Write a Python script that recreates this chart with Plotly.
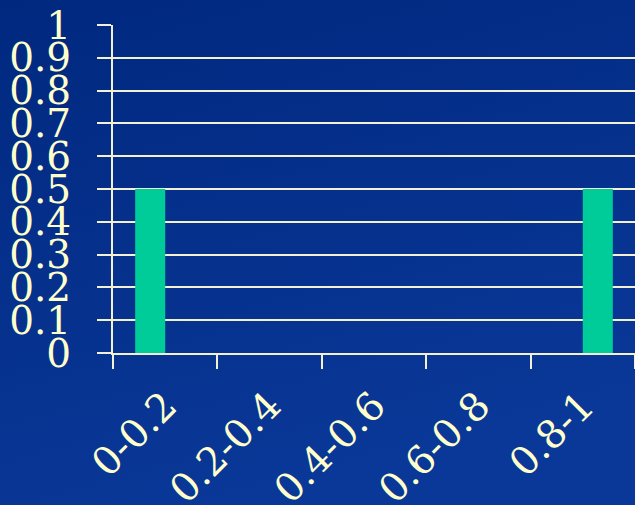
import base64
import plotly.graph_objects as go

categories = ["0-0.2", "0.2-0.4", "0.4-0.6", "0.6-0.8", "0.8-1"]
series_a = [0.5, 0, 0, 0, 0]
series_b = [0, 0, 0, 0, 0.5]
y_ticks = [0, 0.1, 0.2, 0.3, 0.4, 0.5, 0.6, 0.7, 0.8, 0.9, 1]
y_labels = ["0", "0.1", "0.2", "0.3", "0.4", "0.5", "0.6", "0.7", "0.8", "0.9", "1"]

TXT = "#FFFFCC"
LINE = "#F4F0D4"
BAR = "#00CC99"
FONT = "DejaVu Serif"
FSIZE = 39

svg = ('<svg xmlns="http://www.w3.org/2000/svg" width="635" height="505">'
       '<defs><linearGradient id="g" x1="0" y1="0" x2="0.35" y2="1">'
       '<stop offset="0" stop-color="#00287F"/><stop offset="1" stop-color="#0A3898"/>'
       '</linearGradient></defs><rect width="635" height="505" fill="url(#g)"/></svg>')
bg = "data:image/svg+xml;base64," + base64.b64encode(svg.encode()).decode()

fig = go.Figure()
fig.add_trace(go.Bar(x=categories, y=series_a, marker=dict(color=BAR, line=dict(width=0)), showlegend=False))
fig.add_trace(go.Bar(x=categories, y=series_b, marker=dict(color=BAR, line=dict(width=0)), showlegend=False))

fig.update_layout(
    width=635, height=505,
    margin=dict(l=113, r=0, t=25, b=152),
    paper_bgcolor="#03308C",
    plot_bgcolor="rgba(0,0,0,0)",
    barmode="group",
    bargap=0.425,
    bargroupgap=0,
    font=dict(family=FONT, color=TXT, size=FSIZE),
    images=[dict(source=bg, xref="paper", yref="paper", x=-113/522, y=1+25/328,
                 sizex=635/522, sizey=505/328, xanchor="left", yanchor="top",
                 sizing="stretch", layer="below")],
    xaxis=dict(
        type="category",
        tickson="boundaries",
        ticks="outside", ticklen=14, tickwidth=2, tickcolor=LINE,
        showline=True, linecolor=LINE, linewidth=2,
        showgrid=False,
        tickangle=-45,
        tickfont=dict(family=FONT, size=FSIZE, color=TXT),
        ticklabelstandoff=12,
        range=[-0.5, 4.5],
        automargin=False,
    ),
    yaxis=dict(
        range=[0, 1],
        tickvals=y_ticks, ticktext=y_labels,
        ticks="outside", ticklen=14, tickwidth=2, tickcolor=LINE,
        showline=True, linecolor=LINE, linewidth=2,
        showgrid=True, gridcolor=LINE, gridwidth=2,
        zeroline=False,
        tickfont=dict(family=FONT, size=FSIZE, color=TXT),
        ticklabelstandoff=18,
        automargin=False,
    ),
)

fig.write_html("out.html")
